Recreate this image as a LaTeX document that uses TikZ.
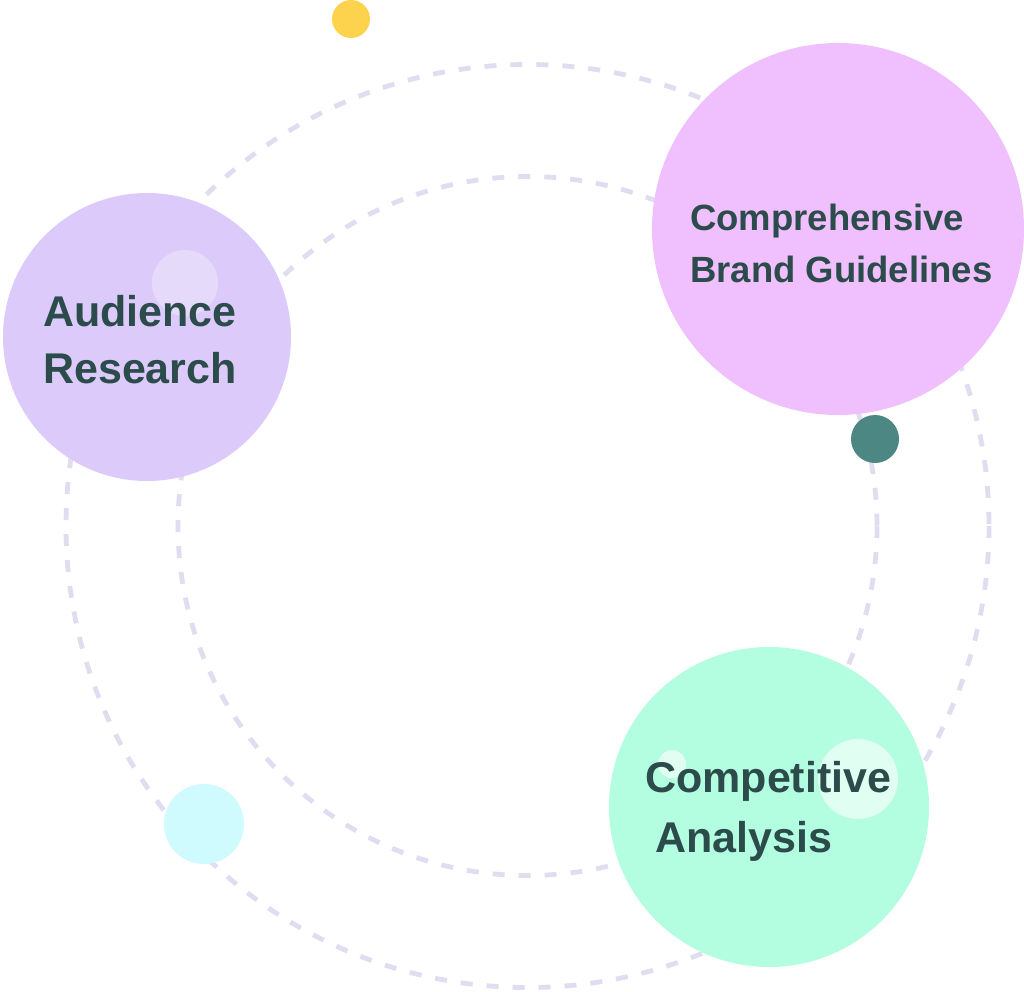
\documentclass[tikz,border=0pt]{standalone}
\usepackage{fontspec}
\setmainfont{Liberation Sans}
\definecolor{dashc}{HTML}{E0DDF0}
\definecolor{purp}{HTML}{DCCBFA}
\definecolor{pinkc}{HTML}{F0BFFD}
\definecolor{greenc}{HTML}{B3FDE0}
\definecolor{cyanc}{HTML}{CFFAFE}
\definecolor{yellowc}{HTML}{FDD34D}
\definecolor{tealc}{HTML}{4C8784}
\definecolor{textc}{HTML}{2C4C4B}
\begin{document}
\begin{tikzpicture}[x=1pt,y=-1pt,
  orbit/.style={draw=dashc,line width=4.8pt,dash pattern=on 12pt off 14pt},
  blob/.style={circle,inner sep=0pt,draw=none},
  lbl/.style={anchor=base west,inner sep=0pt,text=textc,font=\bfseries\fontsize{43}{52}\selectfont},
  shine/.style={circle,inner sep=0pt,fill=white}]
\useasboundingbox (0,0) rectangle (1024,991);
\fill[white] (0,0) rectangle (1024,991);
\coordinate (ctr) at (527.5,526);
\draw[orbit] (ctr) circle[radius=461.5];
\draw[orbit] (ctr) circle[radius=349.5];
\node[blob,fill=purp,minimum size=288pt] (aud) at (147,337) {};
\node[blob,fill=pinkc,minimum size=372pt] (brand) at (838,229) {};
\node[blob,fill=greenc,minimum size=320pt] (comp) at (769,807) {};
\node[shine,opacity=0.3,minimum size=66pt] (sh1) at (185,283) {};
\node[shine,opacity=0.6,minimum size=80pt] (sh2) at (858,779) {};
\node[shine,opacity=0.6,minimum size=28pt] (sh3) at (672,764) {};
\node[blob,fill=yellowc,minimum size=38pt] (dy) at (351,19) {};
\node[blob,fill=tealc,minimum size=48pt] (dt) at (875,439) {};
\node[blob,fill=cyanc,minimum size=80pt] (dc) at (204,824) {};
\node[lbl] (t1) at (43,326) {Audience};
\node[lbl] (t2) at (43,383) {Research};
\node[lbl,font=\bfseries\fontsize{36.5}{44}\selectfont] (t3) at (690,230) {Comprehensive};
\node[lbl,font=\bfseries\fontsize{36.5}{44}\selectfont] (t4) at (690,282) {Brand Guidelines};
\node[lbl] (t5) at (645,792) {Competitive};
\node[lbl] (t6) at (655,852) {Analysis};
\end{tikzpicture}
\end{document}
